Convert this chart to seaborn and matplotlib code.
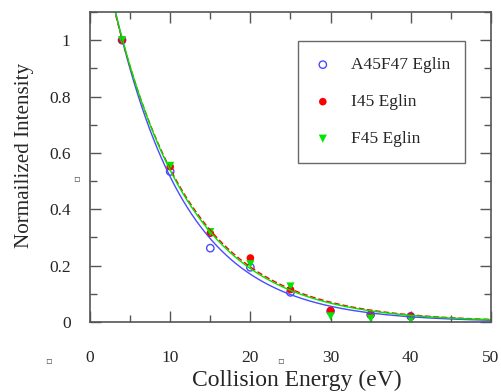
import numpy as np
import pandas as pd
import seaborn as sns
import matplotlib.pyplot as plt
from matplotlib.ticker import MultipleLocator

energy = [4, 10, 15, 20, 25, 30, 35, 40]
a45f47 = [1.0, 0.534, 0.262, 0.194, 0.105, 0.038, 0.026, 0.02]
i45 = [1.0, 0.551, 0.315, 0.227, 0.115, 0.041, 0.026, 0.02]
f45 = [1.0, 0.554, 0.319, 0.205, 0.126, 0.02, 0.012, 0.008]
names = ['A45F47 Eglin', 'I45 Eglin', 'F45 Eglin']
colors = ['#4a4aff', '#ff0000', '#00e600']

sns.set_style('ticks')
plt.rcParams['font.family'] = ['Liberation Serif', 'DejaVu Sans']

fig = plt.figure(figsize=(5.01, 3.92), dpi=100)
ax = fig.add_axes([0.1796, 0.1786, 0.8004, 0.7908])


def fit_exp(x, y):
    # least squares fit of y = A*exp(-k*x), scanning k
    x = np.asarray(x, float)
    y = np.asarray(y, float)
    best = None
    for k in np.linspace(0.03, 0.3, 2701):
        e = np.exp(-k * x)
        A = (y * e).sum() / (e * e).sum()
        r = ((y - A * e) ** 2).sum()
        if best is None or r < best[0]:
            best = (r, A, k)
    return best[1], best[2]


xs = np.linspace(2.5, 50, 300)
styles = ['-', (0, (4, 2)), '-']
for name, vals, c, ls in zip(names, [a45f47, i45, f45], colors, styles):
    A, k = fit_exp(energy, vals)
    sns.lineplot(x=xs, y=A * np.exp(-k * xs), color=c, lw=1.0, ax=ax,
                 linestyle=ls, legend=False)

df = pd.DataFrame({'energy': energy * 3,
                   'value': a45f47 + i45 + f45,
                   'series': [n for n in names for _ in energy]})

sns.scatterplot(data=df[df.series == names[0]], x='energy', y='value', ax=ax,
                marker='o', s=28, facecolor='none', edgecolor=colors[0],
                linewidth=1.0, label=names[0])
sns.scatterplot(data=df[df.series == names[1]], x='energy', y='value', ax=ax,
                marker='o', s=30, color=colors[1], edgecolor='none',
                label=names[1])
sns.scatterplot(data=df[df.series == names[2]], x='energy', y='value', ax=ax,
                marker='v', s=34, color=colors[2], edgecolor='none',
                label=names[2])

ax.set_xlim(0, 50)
ax.set_ylim(0, 1.1)
ax.xaxis.set_major_locator(MultipleLocator(10))
ax.xaxis.set_minor_locator(MultipleLocator(5))
ax.yaxis.set_minor_locator(MultipleLocator(0.1))
ax.set_yticks([0, 0.2, 0.4, 0.6, 0.8, 1.0])
ax.set_yticklabels(['0', '0.2', '0.4', '0.6', '0.8', '1'])
ax.tick_params(which='both', direction='in', top=True, right=True,
               color='#555555', width=1.0)
ax.tick_params(which='major', length=8)
ax.tick_params(which='minor', length=5)
ax.tick_params(axis='x', which='major', pad=20, labelsize=12.5)
ax.tick_params(axis='y', which='major', pad=14, labelsize=12.5)
for s in ax.spines.values():
    s.set_color('#555555')
    s.set_linewidth(1.2)

ax.set_xlabel('Collision Energy (eV)', fontsize=17, va='bottom')
ax.xaxis.set_label_coords(0.515, -0.222)
ax.set_ylabel('Normailized Intensity', fontsize=15.2, va='center')
ax.yaxis.set_label_coords(-0.163, 0.537)

leg = ax.legend(loc='upper left', bbox_to_anchor=(0.52, 0.905), fontsize=12.5,
                frameon=True, fancybox=False, edgecolor='#444444',
                borderpad=0.9, labelspacing=1.2, handlelength=1.0,
                handletextpad=1.1, borderaxespad=0)
leg.get_frame().set_linewidth(1.0)

# little square artifacts from the source document
for x, y in [(0.152, 0.545), (0.097, 0.082), (0.56, 0.082)]:
    fig.text(x, y, '\u25ab', fontsize=7, family='DejaVu Sans', color='#555555',
             ha='center', va='center')

fig.savefig('out.png', dpi=100)
